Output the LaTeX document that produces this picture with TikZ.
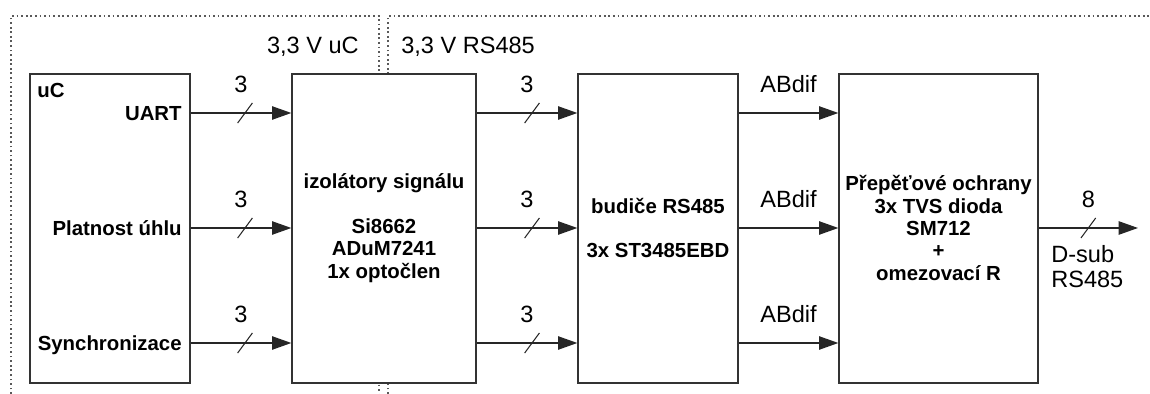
\documentclass[tikz,border=0pt]{standalone}
\usepackage{fontspec}
\setmainfont{Liberation Sans}
\usetikzlibrary{arrows.meta,decorations.markings}

\begin{document}
\begin{tikzpicture}[x=0.02cm,y=-0.02cm,
    blk/.style={draw=black!80, fill=white, line width=0.75pt, minimum height=6.18cm, inner sep=0pt},
    txt/.style={font=\bfseries\fontsize{11.6}{12.75}\selectfont, align=center, inner sep=0pt},
    port/.style={font=\bfseries\fontsize{11.6}{12.75}\selectfont, inner sep=0pt},
    lbl/.style={font=\fontsize{13.4}{14.2}\selectfont, inner sep=0pt},
    sig/.style={draw=black!85, line width=0.8pt, -{Triangle[length=11pt,width=7.6pt]}},
    bus/.style={postaction={decorate, decoration={markings,
        mark=at position #1 with {\draw[-, black!85, line width=0.6pt] (-4.2pt,-5.7pt) -- (4.2pt,5.7pt);}}}},
    bus/.default=0.54,
    zone/.style={draw=black!65, line width=1pt, dash pattern=on 1pt off 1.6pt}]
    \useasboundingbox (0,0) rectangle (1150,394);
    % napajeci oblasti
    \draw[zone] (11,394) -- (11,16) -- (379,16) -- (379,394);
    \draw[zone] (388,394) -- (388,16) -- (1150,16);
    \node[lbl, anchor=base east] (zuc) at (359,54) {3,3 V uC};
    \node[lbl, anchor=base west] (zrs) at (401,54) {3,3 V RS485};
    % bloky
    \node[blk, minimum width=3.2cm] (uc) at (110,228.5) {};
    \node[blk, minimum width=3.68cm] (iso) at (384,228.5) {};
    \node[blk, minimum width=3.2cm] (drv) at (658,228.5) {};
    \node[blk, minimum width=3.98cm] (prot) at (938.5,228.5) {};
    \node[port, anchor=base west] (uctitle) at (37,98) {uC};
    \node[port, anchor=base east] (uart) at (182,120.5) {UART};
    \node[port, anchor=base east] (valid) at (182,235.5) {Platnost úhlu};
    \node[port, anchor=base east] (sync) at (182,350.5) {Synchronizace};
    \node[txt] (isotxt) at (384,228) {izolátory signálu\\[12.75pt]Si8662\\ADuM7241\\1x optočlen};
    \node[txt] (drvtxt) at (658,228) {budiče RS485\\[12.75pt]3x ST3485EBD};
    \node[txt] (prottxt) at (938.5,228) {Přepěťové ochrany\\3x TVS dioda\\SM712\\+\\omezovací R};
    % signaly
    \coordinate (r1) at (0,113);
    \coordinate (r2) at (0,228);
    \coordinate (r3) at (0,343);
    \coordinate (out) at (1138,228);
    \foreach \r in {r1,r2,r3} {
        \draw[sig, bus] (\r -| uc.east) -- node[lbl, above=0.4cm]{3} (\r -| iso.west);
        \draw[sig, bus=0.55] (\r -| iso.east) -- node[lbl, above=0.4cm]{3} (\r -| drv.west);
        \draw[sig] (\r -| drv.east) -- node[lbl, above=0.4cm]{ABdif} (\r -| prot.west);
    }
    \draw[sig, bus=0.5] (r2 -| prot.east) -- node[lbl, above=0.4cm]{8} (out);
    \node[lbl, align=left, anchor=north west] (dsub) at (1051,245) {D-sub\\RS485};
\end{tikzpicture}
\end{document}
